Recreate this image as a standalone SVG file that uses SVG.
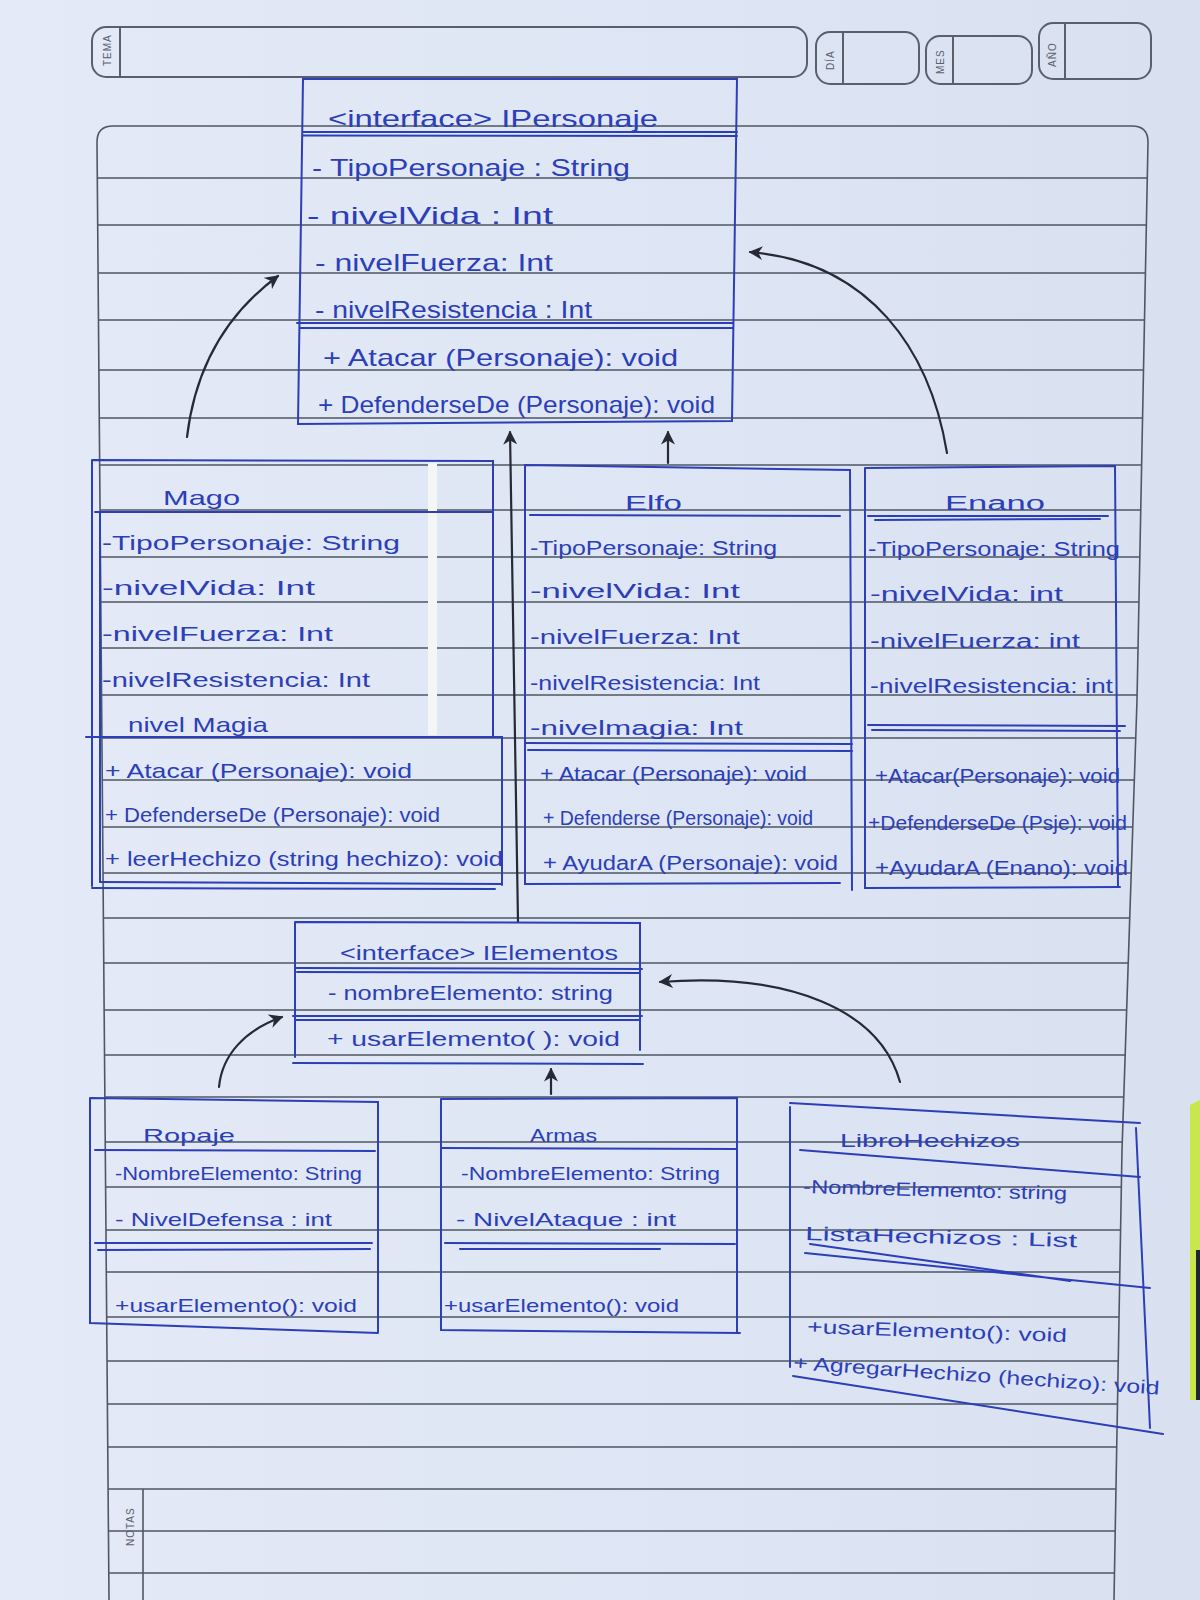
<svg xmlns="http://www.w3.org/2000/svg" width="1200" height="1600" viewBox="0 0 1200 1600">
<style>
.rule{stroke:#4f5763;stroke-width:1.6;fill:none}
.hdr{stroke:#59606b;stroke-width:2;fill:none}
.lbl{font-family:"Liberation Sans",Arial,sans-serif;font-size:10px;fill:#59606b;letter-spacing:1px}
.ink{stroke:#2c3fb8;stroke-width:2;fill:none;stroke-linecap:round}
.t{font-family:"Liberation Sans",Arial,sans-serif;fill:#2c3fb8}
.s24{font-size:24px}.s21{font-size:21px}.s20{font-size:20px}.s19{font-size:19px}
.conn{stroke:#262a35;stroke-width:2.2;fill:none;stroke-linecap:round}
</style>
<defs>
<linearGradient id="paper" x1="0" y1="0" x2="1" y2="0">
<stop offset="0" stop-color="#e4eaf7"/><stop offset="1" stop-color="#d9e1f1"/>
</linearGradient>
<marker id="arrow" viewBox="0 0 10 10" refX="9" refY="5" markerWidth="14" markerHeight="14" markerUnits="userSpaceOnUse" orient="auto">
<path d="M0,0 L10,5 L0,10 L3,5 z" fill="#262a35"/>
</marker>
</defs>

<g id="paper-bg">
<rect x="0" y="0" width="1200" height="1600" fill="url(#paper)"/>
<path d="M1190,1105 L1200,1100 L1200,1400 L1190,1400 z" fill="#c9e64a"/>
<path d="M1196,1250 L1200,1250 L1200,1400 L1196,1400 z" fill="#1f2536"/>
</g>

<g id="header">
<rect class="hdr" x="92" y="27" width="715" height="50" rx="14"/>
<line class="hdr" x1="120" y1="27" x2="120" y2="77"/>
<text class="lbl" transform="translate(111,66) rotate(-90)">TEMA</text>
<rect class="hdr" x="816" y="32" width="103" height="52" rx="14"/>
<line class="hdr" x1="843" y1="32" x2="843" y2="84"/>
<text class="lbl" transform="translate(834,70) rotate(-90)">DÍA</text>
<rect class="hdr" x="926" y="36" width="106" height="48" rx="14"/>
<line class="hdr" x1="953" y1="36" x2="953" y2="84"/>
<text class="lbl" transform="translate(944,74) rotate(-90)">MES</text>
<rect class="hdr" x="1039" y="23" width="112" height="56" rx="14"/>
<line class="hdr" x1="1065" y1="23" x2="1065" y2="79"/>
<text class="lbl" transform="translate(1056,67) rotate(-90)">AÑO</text>
</g>

<g id="ruled-page">
<path class="rule" d="M109,1600 L97,142 Q97,126 113,126 L1132,126 Q1148,126 1148,142 L1137,700 L1122,1150 L1114,1600"/>
<path class="rule" d="M97.4,178H1147.2M97.8,225H1146.3M98.2,273H1145.4M98.6,320H1144.4M99,370H1143.5M99.4,418H1142.5M99.8,465H1141.6M100.1,510H1140.7M100.5,557H1139.8M100.9,602H1138.9M101.2,648H1138M101.6,695H1137.1M102,738H1135.7M102.3,780H1134.3M102.7,827H1132.8M103.1,873H1131.2M103.4,918H1129.7M103.8,963H1128.2M104.2,1010H1126.7M104.6,1055H1125.2M104.9,1097H1123.8M105.3,1142H1122.3M105.6,1187H1121.3M106,1230H1120.6M106.3,1272H1119.8M106.7,1317H1119M107.1,1361H1118.2M107.4,1404H1117.5M107.8,1447H1116.7M108.1,1489H1116M108.4,1531H1115.2M108.8,1573H1114.5"/>
<line class="rule" x1="143" y1="1489" x2="143" y2="1600"/>
<text class="lbl" transform="translate(134,1546) rotate(-90)">NOTAS</text>
</g>

<g id="connectors">
<path class="conn" d="M187,437 C195,370 225,315 278,276" marker-end="url(#arrow)"/>
<path class="conn" d="M947,453 C930,350 870,262 750,252" marker-end="url(#arrow)"/>
<path class="conn" d="M668,463 L668,432" marker-end="url(#arrow)"/>
<path class="conn" d="M518,922 L510,432" marker-end="url(#arrow)"/>
<path class="conn" d="M219,1087 C222,1055 245,1030 282,1017" marker-end="url(#arrow)"/>
<path class="conn" d="M900,1082 C880,1010 790,972 660,982" marker-end="url(#arrow)"/>
<path class="conn" d="M551,1094 L551,1069" marker-end="url(#arrow)"/>
</g>

<g id="IPersonaje">
<path class="ink" d="M303,79 L737,79 L732,421 L298,424 Z"/>
<path class="ink" d="M303,132 L737,132 M303,135.5 L737,136"/>
<path class="ink" d="M297,323 L733,323 M300,328 L733,328"/>
<text class="t s24" x="328" y="127" textLength="330" lengthAdjust="spacingAndGlyphs">&lt;interface&gt; IPersonaje</text>
<text class="t s24" x="312" y="176" textLength="318" lengthAdjust="spacingAndGlyphs">- TipoPersonaje : String</text>
<text class="t s24" x="307" y="224" textLength="246" lengthAdjust="spacingAndGlyphs">- nivelVida :  Int</text>
<text class="t s24" x="315" y="271" textLength="238" lengthAdjust="spacingAndGlyphs">- nivelFuerza: Int</text>
<text class="t s24" x="315" y="318" textLength="277" lengthAdjust="spacingAndGlyphs">- nivelResistencia : Int</text>
<text class="t s24" x="323" y="366" textLength="355" lengthAdjust="spacingAndGlyphs">+ Atacar (Personaje): void</text>
<text class="t s24" x="318" y="413" textLength="397" lengthAdjust="spacingAndGlyphs">+ DefenderseDe (Personaje): void</text>
</g>

<g id="Mago">
<rect x="428" y="463" width="9" height="272" fill="#f4f6f4"/>
<path class="ink" d="M92,460 L493,461 L493,737 M92,460 L92,886 M100,512 L100,882"/>
<path class="ink" d="M95,512 L493,512"/>
<path class="ink" d="M86,737 L502,737 L502,885 M100,882 L502,884 M92,888 L495,889"/>
<text class="t s21" x="163" y="505" textLength="77" lengthAdjust="spacingAndGlyphs">Mago</text>
<text class="t s21" x="102" y="550" textLength="298" lengthAdjust="spacingAndGlyphs">-TipoPersonaje: String</text>
<text class="t s21" x="102" y="595" textLength="213" lengthAdjust="spacingAndGlyphs">-nivelVida: Int</text>
<text class="t s21" x="102" y="641" textLength="231" lengthAdjust="spacingAndGlyphs">-nivelFuerza: Int</text>
<text class="t s21" x="102" y="687" textLength="268" lengthAdjust="spacingAndGlyphs">-nivelResistencia: Int</text>
<text class="t s21" x="128" y="732" textLength="140" lengthAdjust="spacingAndGlyphs">nivel Magia</text>
<text class="t s21" x="105" y="778" textLength="307" lengthAdjust="spacingAndGlyphs">+ Atacar (Personaje): void</text>
<text class="t s21" x="105" y="822" textLength="335" lengthAdjust="spacingAndGlyphs">+ DefenderseDe (Personaje): void</text>
<text class="t s21" x="105" y="866" textLength="398" lengthAdjust="spacingAndGlyphs">+ leerHechizo (string hechizo): void</text>
</g>

<g id="Elfo">
<path class="ink" d="M525,465 L850,470 L852,890 M525,465 L525,884 L840,883"/>
<path class="ink" d="M530,515 L840,516"/>
<path class="ink" d="M525,743 L852,744 M528,750 L852,751"/>
<text class="t s20" x="625" y="510" textLength="57" lengthAdjust="spacingAndGlyphs">Elfo</text>
<text class="t s20" x="530" y="555" textLength="247" lengthAdjust="spacingAndGlyphs">-TipoPersonaje: String</text>
<text class="t s20" x="530" y="598" textLength="210" lengthAdjust="spacingAndGlyphs">-nivelVida: Int</text>
<text class="t s20" x="530" y="644" textLength="210" lengthAdjust="spacingAndGlyphs">-nivelFuerza: Int</text>
<text class="t s20" x="530" y="690" textLength="230" lengthAdjust="spacingAndGlyphs">-nivelResistencia: Int</text>
<text class="t s20" x="530" y="735" textLength="213" lengthAdjust="spacingAndGlyphs">-nivelmagia: Int</text>
<text class="t s20" x="540" y="781" textLength="267" lengthAdjust="spacingAndGlyphs">+ Atacar (Personaje): void</text>
<text class="t s20" x="543" y="825" textLength="270" lengthAdjust="spacingAndGlyphs">+ Defenderse (Personaje): void</text>
<text class="t s20" x="543" y="870" textLength="295" lengthAdjust="spacingAndGlyphs">+ AyudarA (Personaje): void</text>
</g>

<g id="Enano">
<path class="ink" d="M865,468 L1115,466 L1118,887 M865,468 L865,888 L1120,887"/>
<path class="ink" d="M868,516 L1108,516 M875,520 L1100,519"/>
<path class="ink" d="M868,725 L1125,726 M872,730 L1120,731"/>
<text class="t s20" x="945" y="510" textLength="100" lengthAdjust="spacingAndGlyphs">Enano</text>
<text class="t s20" x="868" y="556" textLength="252" lengthAdjust="spacingAndGlyphs">-TipoPersonaje: String</text>
<text class="t s20" x="870" y="601" textLength="193" lengthAdjust="spacingAndGlyphs">-nivelVida: int</text>
<text class="t s20" x="870" y="648" textLength="210" lengthAdjust="spacingAndGlyphs">-nivelFuerza: int</text>
<text class="t s20" x="870" y="693" textLength="243" lengthAdjust="spacingAndGlyphs">-nivelResistencia: int</text>
<text class="t s20" x="875" y="783" textLength="245" lengthAdjust="spacingAndGlyphs">+Atacar(Personaje): void</text>
<text class="t s20" x="868" y="830" textLength="259" lengthAdjust="spacingAndGlyphs">+DefenderseDe (Psje): void</text>
<text class="t s20" x="875" y="875" textLength="253" lengthAdjust="spacingAndGlyphs">+AyudarA (Enano): void</text>
</g>

<g id="IElementos">
<path class="ink" d="M295,922 L640,923 L640,1050 M295,922 L295,1057"/>
<path class="ink" d="M295,968 L642,969 M297,972 L640,973"/>
<path class="ink" d="M293,1016 L642,1016 M296,1020 L640,1020"/>
<path class="ink" d="M293,1063 L643,1064"/>
<text class="t s21" x="340" y="960" textLength="278" lengthAdjust="spacingAndGlyphs">&lt;interface&gt; IElementos</text>
<text class="t s21" x="328" y="1000" textLength="285" lengthAdjust="spacingAndGlyphs">- nombreElemento: string</text>
<text class="t s21" x="327" y="1046" textLength="293" lengthAdjust="spacingAndGlyphs">+ usarElemento( ): void</text>
</g>

<g id="Ropaje">
<path class="ink" d="M90,1098 L378,1102 L378,1332 M90,1098 L90,1323 L378,1333"/>
<path class="ink" d="M95,1150 L375,1151"/>
<path class="ink" d="M95,1243 L372,1243 M98,1250 L370,1249"/>
<text class="t s19" x="143" y="1142" textLength="92" lengthAdjust="spacingAndGlyphs">Ropaje</text>
<text class="t s19" x="115" y="1180" textLength="247" lengthAdjust="spacingAndGlyphs">-NombreElemento: String</text>
<text class="t s19" x="115" y="1226" textLength="217" lengthAdjust="spacingAndGlyphs">- NivelDefensa : int</text>
<text class="t s19" x="115" y="1312" textLength="242" lengthAdjust="spacingAndGlyphs">+usarElemento(): void</text>
</g>

<g id="Armas">
<path class="ink" d="M441,1099 L737,1098 L737,1333 M441,1099 L441,1330 L740,1333"/>
<path class="ink" d="M441,1148 L737,1149"/>
<path class="ink" d="M445,1243 L735,1244 M460,1249 L660,1249"/>
<text class="t s19" x="530" y="1142" textLength="67" lengthAdjust="spacingAndGlyphs">Armas</text>
<text class="t s19" x="461" y="1180" textLength="259" lengthAdjust="spacingAndGlyphs">-NombreElemento: String</text>
<text class="t s19" x="456" y="1226" textLength="220" lengthAdjust="spacingAndGlyphs">- NivelAtaque : int</text>
<text class="t s19" x="444" y="1312" textLength="235" lengthAdjust="spacingAndGlyphs">+usarElemento(): void</text>
</g>

<g id="LibroHechizos">
<path class="ink" d="M790,1103 L1140,1123 M790,1107 L790,1367 M1136,1128 L1150,1428"/>
<path class="ink" d="M800,1150 L1140,1177"/>
<path class="ink" d="M805,1253 L1150,1288 M810,1244 L1070,1281"/>
<path class="ink" d="M793,1376 L1163,1434"/>
<text class="t s19" x="840" y="1147" textLength="180" lengthAdjust="spacingAndGlyphs">LibroHechizos</text>
<text class="t s19" x="803" y="1193" textLength="264" lengthAdjust="spacingAndGlyphs" transform="rotate(1.5,803,1193)">-NombreElemento: string</text>
<text class="t s19" x="805" y="1240" textLength="272" lengthAdjust="spacingAndGlyphs" transform="rotate(1.5,805,1240)">ListaHechizos : List</text>
<text class="t s19" x="807" y="1333" textLength="260" lengthAdjust="spacingAndGlyphs" transform="rotate(2,807,1333)">+usarElemento(): void</text>
<text class="t s19" x="793" y="1369" textLength="367" lengthAdjust="spacingAndGlyphs" transform="rotate(4,793,1369)">+ AgregarHechizo (hechizo): void</text>
</g>
</svg>
